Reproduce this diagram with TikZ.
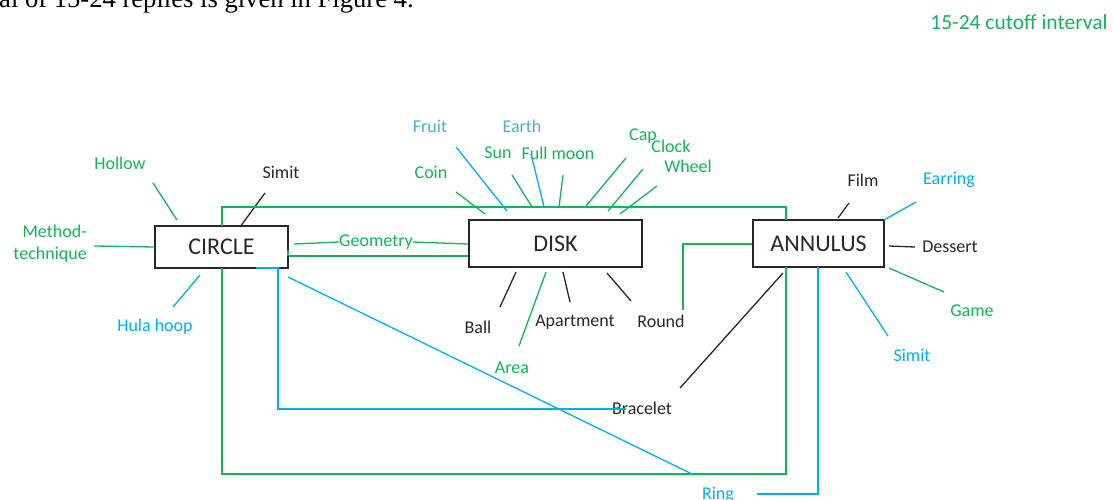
\documentclass[tikz,border=0pt]{standalone}
\usepackage{fontspec}
\setmainfont{Carlito}
\newfontfamily\timesfont{Liberation Serif}
\definecolor{gr}{RGB}{20,180,90}
\definecolor{bl}{RGB}{0,176,240}
\definecolor{lbl}{RGB}{85,170,205}
\definecolor{dk}{RGB}{40,40,40}
\begin{document}
\begin{tikzpicture}[x=1pt,y=-1pt,
  box/.style={draw=dk,line width=1.5pt,inner sep=0pt,font=\fontsize{24}{28}\selectfont,text=dk},
  lab/.style={inner sep=0pt,font=\fontsize{18}{21}\selectfont},
  gl/.style={draw=gr,line width=1.3pt},
  bll/.style={draw=bl,line width=1.3pt},
  kl/.style={draw=dk,line width=1.3pt}]
\useasboundingbox (0,0) rectangle (1114,500);
\begin{scope}
\clip (0,0) rectangle (1114,500);
\node[anchor=base west,inner sep=0pt,font=\timesfont\fontsize{26.6}{30}\selectfont] (top) at (-1,8) {al of 15-24 replies is given in Figure 4.};
\node[lab,text=bl,anchor=base] (ring) at (718,499) {Ring};
\end{scope}
\node[lab,text=gr,font=\fontsize{21.5}{25}\selectfont] (title) at (1019,22) {15-24 cutoff interval};
% boxes
\node[box,minimum width=133pt,minimum height=42pt] (circle) at (221.5,247) {CIRCLE};
\node[box,minimum width=173pt,minimum height=47pt] (disk) at (555.5,243.5) {DISK};
\node[box,minimum width=131pt,minimum height=47pt] (annulus) at (818.5,243.5) {ANNULUS};
% circle labels
\node[lab,text=gr] (hollow) at (120,163) {Hollow};
\node[lab,text=gr,align=right,anchor=east,font=\fontsize{18}{22}\selectfont] (method) at (87,244) {Method-\\technique};
\node[lab,text=bl] (hula) at (155,327) {Hula hoop};
\node[lab,text=dk] (simit1) at (281,172) {Simit};
\node[lab,text=gr] (geometry) at (376,242) {Geometry};
% disk labels
\node[lab,text=lbl] (fruit) at (430,126) {Fruit};
\node[lab,text=lbl] (earth) at (522,126) {Earth};
\node[lab,text=gr] (coin) at (431,172) {Coin};
\node[lab,text=gr] (sun) at (498,153) {Sun};
\node[lab,text=gr] (fullmoon) at (558,153) {Full moon};
\node[lab,text=gr] (cap) at (643,136) {Cap};
\node[lab,text=gr] (clock) at (671,146) {Clock};
\node[lab,text=gr] (wheel) at (688,166) {Wheel};
\node[lab,text=dk] (ball) at (478,327) {Ball};
\node[lab,text=gr] (area) at (512,368) {Area};
\node[lab,text=dk] (apartment) at (575,322) {Apartment};
\node[lab,text=dk] (round) at (661,321) {Round};
% annulus labels
\node[lab,text=dk] (film) at (863,180) {Film};
\node[lab,text=bl] (earring) at (949,180) {Earring};
\node[lab,text=dk] (dessert) at (950,247) {Dessert};
\node[lab,text=gr] (game) at (972,311) {Game};
\node[lab,text=bl] (simit2) at (912,355) {Simit};
\node[lab,text=dk] (bracelet) at (642,408) {Bracelet};
% circle spokes
\draw[gl] (153,183) -- (177,220);
\draw[gl] (94,246) -- (circle.west |- 0,247);
\draw[bll] (173,307) -- (200,275);
\draw[kl] (265,193) -- (240,227);
% geometry
\draw[gl] (294,244) -- (geometry.west);
\draw[gl] (geometry.east) -- (disk.west |- 0,244);
\draw[gl] (circle.east |- 0,256) -- (disk.west |- 0,256);
\draw[gl] (288,250) -- (288,256);
% big green frame
\draw[gl] (222,226) -- (222,207) -- (786,207) -- (786,220);
\draw[gl] (222,268) -- (222,474) -- (786,474) -- (786,267);
% disk top spokes
\draw[gl] (456,192) -- (485,214);
\draw[bll] (456,147) -- (507,211);
\draw[gl] (512,175) -- (532,207);
\draw[bll] (531,154) -- (544,207);
\draw[gl] (563,175) -- (559,207);
\draw[gl] (626,158) -- (586,206);
\draw[gl] (643,169) -- (608,211);
\draw[gl] (657,186) -- (620,214);
% disk bottom spokes
\draw[kl] (516,272) -- (500,307);
\draw[gl] (546,272) -- (519,346);
\draw[kl] (563,272) -- (570,302);
\draw[kl] (607,273) -- (631,301);
\draw[gl] (683,310) -- (683,244) -- (annulus.west |- 0,244);
% annulus spokes
\draw[kl] (849,203) -- (838,218);
\draw[bll] (916,202) -- (884,220);
\draw[kl] (889,246) -- (915,247);
\draw[gl] (889,268) -- (944,292);
\draw[bll] (846,272) -- (888,336);
\draw[kl] (783,273) -- (680,388);
% blue connectors
\draw[bll] (256,268) -- (278,268) -- (278,409) -- (626,409);
\draw[bll] (288,277) -- (694,475);
\draw[bll] (818,267) -- (818,494) -- (757,494);
\end{tikzpicture}
\end{document}
